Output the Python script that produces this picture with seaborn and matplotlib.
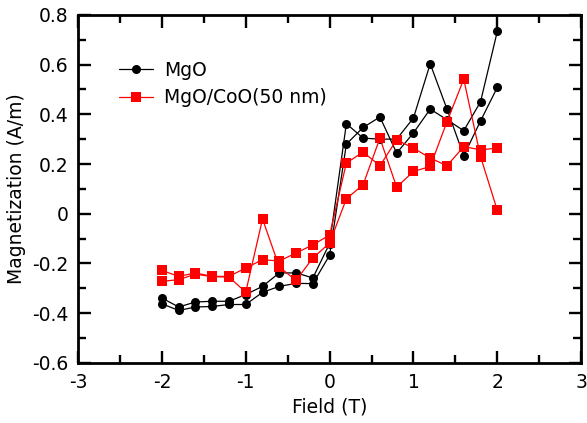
import numpy as np
import pandas as pd
import matplotlib
matplotlib.use("Agg")
import matplotlib.pyplot as plt
from matplotlib.ticker import MultipleLocator, FuncFormatter
import seaborn as sns

field = [-2.0, -1.8, -1.6, -1.4, -1.2, -1.0, -0.8, -0.6, -0.4, -0.2, 0.0,
         0.2, 0.4, 0.6, 0.8, 1.0, 1.2, 1.4, 1.6, 1.8, 2.0]

mgo_branch1 = [-0.339, -0.375, -0.355, -0.352, -0.352, -0.325, -0.292, -0.238, -0.238, -0.258, -0.120,
               0.362, 0.304, 0.300, 0.300, 0.385, 0.603, 0.421, 0.233, 0.373, 0.508]
mgo_branch2 = [-0.362, -0.389, -0.375, -0.373, -0.365, -0.365, -0.316, -0.292, -0.280, -0.281, -0.167,
               0.280, 0.347, 0.389, 0.244, 0.325, 0.421, 0.378, 0.334, 0.450, 0.733]

coo_branch1 = [-0.272, -0.265, -0.243, -0.253, -0.255, -0.315, -0.021, -0.214, -0.268, -0.178, -0.118,
               0.060, 0.117, 0.304, 0.107, 0.170, 0.190, 0.370, 0.541, 0.230, 0.014]
coo_branch2 = [-0.228, -0.252, -0.238, -0.252, -0.252, -0.218, -0.185, -0.190, -0.158, -0.125, -0.086,
               0.204, 0.248, 0.193, 0.297, 0.264, 0.224, 0.193, 0.270, 0.257, 0.264]

series_names = ["MgO", "MgO/CoO(50 nm)"]
x_ticks = [-3, -2, -1, 0, 1, 2, 3]
y_ticks = [-0.6, -0.4, -0.2, 0, 0.2, 0.4, 0.6, 0.8]

rows = []
for name, branches in [(series_names[0], [mgo_branch1, mgo_branch2]),
                       (series_names[1], [coo_branch1, coo_branch2])]:
    for bi, vals in enumerate(branches):
        for f, m in zip(field, vals):
            rows.append({"Field": f, "Mag": m, "Sample": name, "Branch": f"{name}_{bi}"})
df = pd.DataFrame(rows)

sns.set_style("ticks")
plt.rcParams["font.family"] = ["DejaVu Sans"]
plt.rcParams["font.size"] = 13.5
plt.rcParams["text.color"] = "black"
plt.rcParams["axes.labelcolor"] = "black"

fig = plt.figure(figsize=(5.87, 4.23), dpi=100)
ax = fig.add_axes([0.133, 0.142, 0.857, 0.823])

sns.lineplot(data=df, x="Field", y="Mag", hue="Sample", style="Sample",
             units="Branch", estimator=None, sort=True,
             hue_order=series_names, style_order=series_names,
             palette={series_names[0]: "black", series_names[1]: "#ff0000"},
             markers={series_names[0]: "o", series_names[1]: "s"},
             dashes=False, linewidth=0.9, markersize=6.5, markeredgewidth=0,
             ax=ax)

ax.set_xlim(-3, 3)
ax.set_ylim(-0.6, 0.8)
ax.set_xticks(x_ticks)
ax.set_yticks(y_ticks)
ax.xaxis.set_minor_locator(MultipleLocator(0.5))
ax.yaxis.set_minor_locator(MultipleLocator(0.1))

def fmt(v, pos):
    if abs(v) < 1e-9:
        return "0"
    s = f"{v:.1f}" if abs(v - round(v)) > 1e-9 else f"{int(round(v))}"
    return s
ax.xaxis.set_major_formatter(FuncFormatter(fmt))
ax.yaxis.set_major_formatter(FuncFormatter(fmt))

ax.tick_params(which="both", direction="in", top=True, right=True, width=1.7, colors="black",
               labelsize=13.5)
ax.tick_params(which="major", length=9, pad=7)
ax.tick_params(which="minor", length=5.5)
for sp in ax.spines.values():
    sp.set_visible(True)
    sp.set_linewidth(2.0)
    sp.set_color("black")

ax.set_xlabel("Field (T)", fontsize=13.5, labelpad=4, color="black")
ax.set_ylabel("Magnetization (A/m)", fontsize=13.5, labelpad=4, color="black")

leg = ax.legend(loc="upper left", bbox_to_anchor=(0.063, 0.895), frameon=False,
                borderpad=0, handlelength=1.8, handletextpad=0.6, labelspacing=0.45,
                fontsize=13.5)
for h in leg.legend_handles:
    h.set_markersize(6.5)

fig.savefig("out.png", dpi=100)
